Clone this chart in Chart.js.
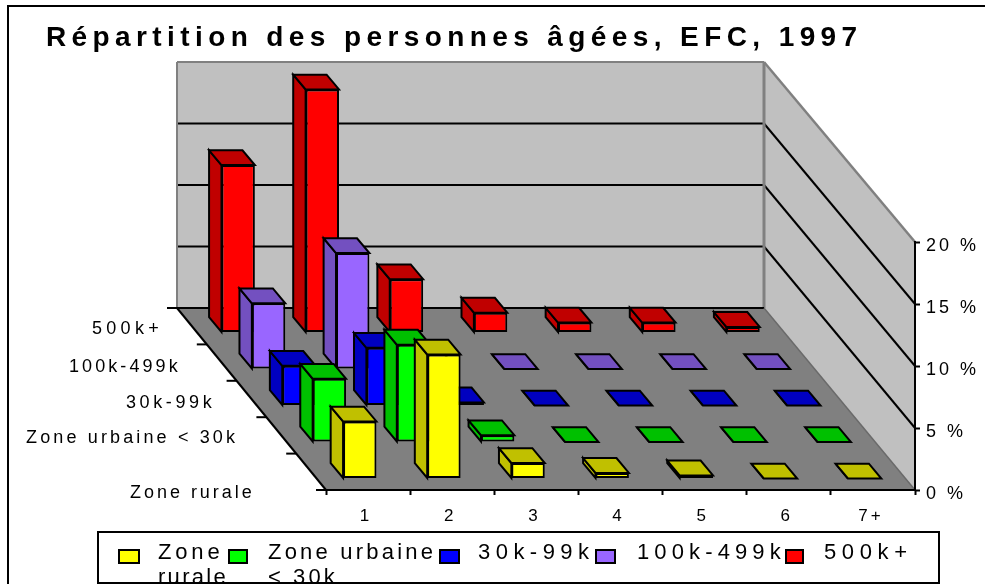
<!DOCTYPE html>
<html lang="fr">
<head>
<meta charset="utf-8">
<title>Répartition des personnes âgées</title>
<script src="https://cdn.jsdelivr.net/npm/chart.js@4"></script>
<style>
html,body{margin:0;padding:0;background:#fff;overflow:hidden}
#wrap{position:relative;width:985px;height:584px}
canvas{display:block}
</style>
</head>
<body>
<div id="wrap"><canvas id="c" width="985" height="584"></canvas></div>
<script>
const chartTitle = "Répartition des personnes âgées, EFC, 1997";
const categories = ["1","2","3","4","5","6","7+"];
const seriesNames = ["Zone rurale","Zone urbaine < 30k","30k-99k","100k-499k","500k+"];
const legendLines = [["Zone","rurale"],["Zone urbaine","< 30k"],["30k-99k"],["100k-499k"],["500k+"]];
const zoneRurale  = [4.6, 10.0, 1.25, 0.45, 0.25, 0, 0];
const zoneUrbaine = [5.1, 7.85, 0.55, 0, 0, 0, 0];
const k30to99     = [3.2, 4.65, 0.25, 0, 0, 0, 0];
const k100to499   = [5.3, 9.35, 0.3, 0, 0, 0, 0];
const k500plus    = [13.5, 19.6, 4.3, 1.6, 0.8, 0.8, 0.45];
const seriesValues = [zoneRurale, zoneUrbaine, k30to99, k100to499, k500plus];
const frontColors = ["#FFFF00","#00FF00","#0000FF","#9966FF","#FF0000"];
const darkColors  = ["#C0C000","#00C000","#0000C0","#7350C0","#C00000"];

const FONT = '"Liberation Sans", Arial, sans-serif';
/* oblique projection of the chart's depth axis */
const floorDXLeft = -149, floorDXRight = -151, floorDY = -182;
const backWallRatio = 246/248;
const stepDX = -30.4, stepDY = -36.5;      /* one series slot */
const firstDX = -8.3, firstDY = -11.5;     /* first slot inset */
const boxDX = -12.4, boxDY = -14.8;        /* depth of one box */
/* depth-axis labels, back to front: left, centre y, ink width */
const depthLabelSpots = [[92,329.5,66.7],[69,367.5,108.7],[126,403.5,85.7],[26,438.5,209],[130,493.5,121.7]];
const legendSwatch = [[119,139],[229,247],[440,459],[596,615],[786,803]];
const legendTextX = [158,268,478,637,824];
const legendWidths = [[61.7,67.7],[165,66.7],[111],[143.7],[83]];

function poly(ctx, pts, fill, stroke, lw){
  ctx.beginPath();
  pts.forEach((p,i)=> i?ctx.lineTo(p[0],p[1]):ctx.moveTo(p[0],p[1]));
  ctx.closePath();
  if(fill){ctx.fillStyle=fill;ctx.fill();}
  if(stroke){ctx.strokeStyle=stroke;ctx.lineWidth=lw;ctx.lineJoin='miter';ctx.stroke();}
}
function line(ctx,a,b,c,d,col,lw){
  ctx.beginPath();ctx.moveTo(a,b);ctx.lineTo(c,d);ctx.strokeStyle=col;ctx.lineWidth=lw;ctx.stroke();
}
/* letter-spaced text stretched to the width measured on the reference */
function text(ctx,s,x,y,font,width){
  ctx.save();ctx.font=font;ctx.letterSpacing='0px';
  const nat=ctx.measureText(s).width;
  ctx.letterSpacing=((width-nat)/(s.length-1)).toFixed(2)+'px';
  ctx.fillStyle='#000';ctx.textAlign='left';ctx.textBaseline='middle';
  ctx.fillText(s,x,y);ctx.restore();
}

const scene = {
  id:'scene',
  beforeDraw(chart){
    const ctx=chart.ctx, xs=chart.scales.x, ys=chart.scales.y;
    const L=xs.left,R=xs.right,B=ys.bottom,T=ys.top;
    const bl=L+floorDXLeft,br=R+floorDXRight,bb=B+floorDY;
    const backY=v=>bb-(B-ys.getPixelForValue(v))*backWallRatio;
    const wallTop=backY(20);
    ctx.save();
    ctx.fillStyle='#fff';ctx.fillRect(0,0,985,584);
    /* frame */
    line(ctx,8,6,985,6,'#000',2);
    line(ctx,8,5,8,584,'#000',2);
    /* back wall and right wall */
    poly(ctx,[[bl,wallTop],[br,wallTop],[br,bb],[bl,bb]],'#C0C0C0');
    poly(ctx,[[br,wallTop],[R,T],[R,B],[br,bb]],'#C0C0C0');
    /* gridlines */
    ys.ticks.forEach(t=>{
      if(t.value===0||t.value===20) return;
      const y=ys.getPixelForValue(t.value), yb=backY(t.value);
      line(ctx,bl,yb,br,yb,'#000',2);
      line(ctx,br,yb,R,y,'#000',2);
    });
    /* wall outlines */
    line(ctx,bl,wallTop,br,wallTop,'#808080',2);
    line(ctx,bl,wallTop,bl,bb,'#808080',2);
    line(ctx,br,wallTop,R,T,'#808080',2.5);
    line(ctx,br,wallTop,br,bb,'#808080',3);
    /* floor */
    poly(ctx,[[bl,bb],[br,bb],[R,B],[L,B]],'#808080');
    line(ctx,bl-10,bb,br,bb,'#000',2);
    line(ctx,bl,bb,L,B,'#000',2);
    line(ctx,br,bb,R,B,'#6a6a6a',1.5);
    /* depth axis ticks */
    seriesNames.concat(['']).forEach((_,i)=>{
      const f=i/seriesNames.length;
      const x=L+floorDXLeft*f,y=B+floorDY*f;
      line(ctx,x-10,y,x,y,'#000',2);
    });
    ctx.restore();
    ctx.letterSpacing='3px';
  },
  beforeDatasetDraw(chart,args){
    const ctx=chart.ctx,i=args.index;
    ctx.save();
    ctx.translate(firstDX+stepDX*i,firstDY+stepDY*i);
    args.meta.data.forEach(bar=>{
      const w=bar.width,l=bar.x-w/2,r=bar.x+w/2,t=bar.y,b=bar.base;
      poly(ctx,[[l,t],[l,b],[l+boxDX,b+boxDY],[l+boxDX,t+boxDY]],darkColors[i],'#000',2);
      poly(ctx,[[l,t],[r,t],[r+boxDX,t+boxDY],[l+boxDX,t+boxDY]],darkColors[i],'#000',2);
    });
  },
  afterDatasetDraw(chart){ chart.ctx.restore(); },
  afterDraw(chart){
    const ctx=chart.ctx;
    text(ctx,chartTitle,46,38.5,'bold 28px '+FONT,811);
    const labelFont='18px '+FONT;
    seriesNames.forEach((n,i)=>{
      const s=seriesNames[seriesNames.length-1-i], p=depthLabelSpots[i];
      text(ctx,s,p[0],p[1],labelFont,p[2]);
    });
    /* legend */
    ctx.save();
    ctx.strokeStyle='#000';ctx.lineWidth=2;
    ctx.strokeRect(98,532,841,51);
    seriesNames.forEach((n,i)=>{
      const [a,b]=legendSwatch[i];
      ctx.fillStyle=frontColors[i];ctx.fillRect(a,550,b-a,13);
      ctx.strokeStyle='#000';ctx.lineWidth=2;ctx.strokeRect(a,550,b-a,13);
      legendLines[i].forEach((ln,j)=>text(ctx,ln,legendTextX[i],553+j*25,'22px '+FONT,legendWidths[i][j]));
    });
    ctx.restore();
  }
};

new Chart(document.getElementById('c'),{
  type:'bar',
  data:{
    labels:categories,
    datasets:seriesNames.map((name,i)=>({
      label:name,
      data:seriesValues[i],
      backgroundColor:frontColors[i],
      borderColor:'#000',
      borderWidth:2,
      borderSkipped:false,
      inflateAmount:0,
      grouped:false,
      barThickness:33.4,
      clip:false
    }))
  },
  plugins:[scene],
  options:{
    responsive:false,
    animation:false,
    events:[],
    layout:{padding:{left:326,top:242,right:0,bottom:0}},
    plugins:{legend:{display:false},title:{display:false,text:chartTitle},tooltip:{enabled:false}},
    scales:{
      x:{
        type:'category',
        position:'bottom',
        afterFit(s){s.height=94;},
        grid:{drawOnChartArea:false,tickLength:5,tickColor:'#000',tickWidth:2},
        border:{color:'#000',width:2},
        ticks:{color:'#000',font:{family:FONT,size:17},padding:11,labelOffset:-2,maxRotation:0,autoSkip:false}
      },
      y:{
        type:'linear',
        position:'right',
        min:0,max:20,
        afterFit(s){s.width=70;},
        grid:{drawOnChartArea:false,tickLength:5,tickColor:'#000',tickWidth:2},
        border:{color:'#000',width:2},
        ticks:{color:'#000',stepSize:5,font:{family:FONT,size:18},padding:6,labelOffset:4.5,
          callback:v=>v+' %'}
      }
    }
  }
});
</script>
</body>
</html>
